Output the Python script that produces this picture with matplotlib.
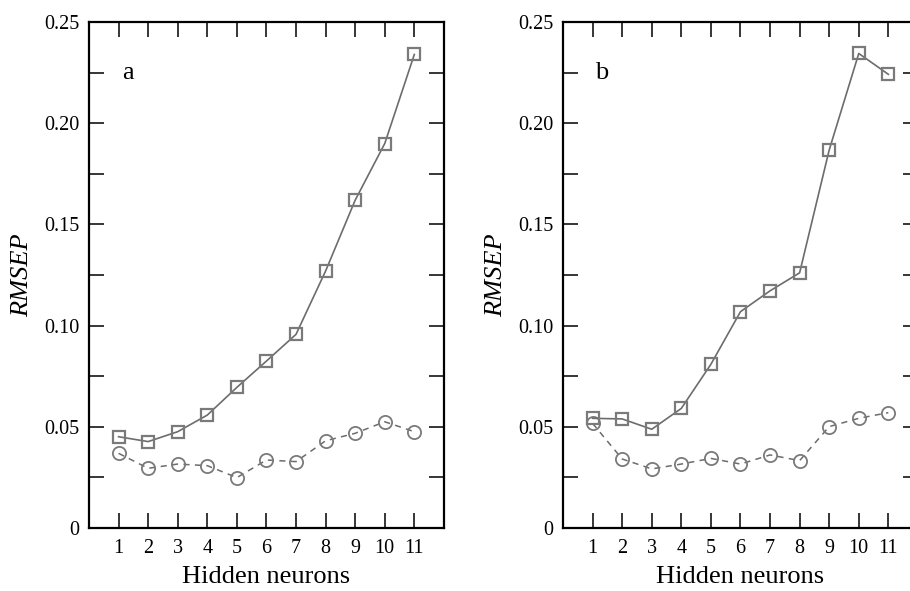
import matplotlib
matplotlib.use("Agg")
import matplotlib.pyplot as plt
from matplotlib.ticker import MultipleLocator, FixedLocator

neurons = [1, 2, 3, 4, 5, 6, 7, 8, 9, 10, 11]

# panel a
a_square = [0.0451, 0.0427, 0.0476, 0.0558, 0.0695, 0.0825, 0.0957, 0.127, 0.162, 0.190, 0.234]
a_circle = [0.0369, 0.0295, 0.0316, 0.0308, 0.0249, 0.0336, 0.0328, 0.0431, 0.0468, 0.0525, 0.0476]

# panel b
b_square = [0.0542, 0.0539, 0.0488, 0.0591, 0.0809, 0.1069, 0.1172, 0.1261, 0.1868, 0.2345, 0.2242]
b_circle = [0.0517, 0.0341, 0.0292, 0.0316, 0.0344, 0.0316, 0.0361, 0.0333, 0.0501, 0.0542, 0.0570]

panel_labels = ["a", "b"]
ytick_vals = [0, 0.05, 0.10, 0.15, 0.20, 0.25]
ytick_text = ["0", "0.05", "0.10", "0.15", "0.20", "0.25"]

plt.rcParams['font.family'] = ['Liberation Serif', 'DejaVu Serif']

fig = plt.figure(figsize=(9.10, 5.91), dpi=100)
ax_a = fig.add_axes([0.0978, 0.1066, 0.390, 0.856])
ax_b = fig.add_axes([0.6187, 0.1066, 0.390, 0.856])

line_col = '#6c6c6c'
mark_col = '#7a7a7a'

for ax, sq, ci, lab in [(ax_a, a_square, a_circle, panel_labels[0]),
                        (ax_b, b_square, b_circle, panel_labels[1])]:
    ax.plot(neurons, ci, color=line_col, lw=1.1, linestyle=(0, (4, 3.5)),
            marker='o', ms=9.5, mfc='none', mec=mark_col, mew=1.3, zorder=3)
    ax.plot(neurons, sq, color=line_col, lw=1.2, linestyle='-',
            marker='s', ms=9, mfc='none', mec=mark_col, mew=1.6, zorder=4)
    ax.set_xlim(0, 12)
    ax.set_ylim(0, 0.25)
    ax.xaxis.set_major_locator(FixedLocator(list(range(1, 13))))
    ax.set_xticklabels([str(n) for n in neurons] + [""])
    ax.set_yticks(ytick_vals)
    ax.set_yticklabels(ytick_text)
    ax.yaxis.set_minor_locator(MultipleLocator(0.025))
    ax.tick_params(which='both', direction='in', top=True, right=True,
                   length=11, width=1.1, labelsize=14.5, color='black')
    ax.tick_params(axis='x', pad=8)
    ax.tick_params(axis='y', pad=7)
    for s in ax.spines.values():
        s.set_linewidth(1.6)
    ax.set_xlabel("Hidden neurons", fontsize=19, labelpad=6)
    ax.set_ylabel("RMSEP", fontsize=19, style='italic', labelpad=8)
    ax.text(1.32, 0.225, lab, fontsize=19, ha='center', va='center')

fig.savefig("out.png", dpi=100)
